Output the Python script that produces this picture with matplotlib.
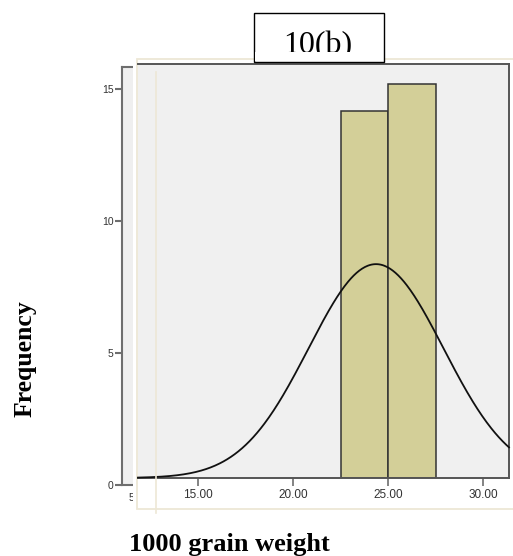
import numpy as np
import matplotlib
matplotlib.use("Agg")
import matplotlib.pyplot as plt
from matplotlib.patches import Rectangle
from matplotlib.lines import Line2D

# histogram of 1000 grain weight with fitted normal curve
bin_edges = [22.5, 25.0, 27.5]
bin_counts = [14, 15]
fit_mean = 24.37
fit_sd = 3.55
x_ticks = [15, 20, 25, 30]
x_tick_labels = ["15.00", "20.00", "25.00", "30.00"]
y_ticks = [0, 5, 10, 15]

W, H = 513, 556
fig = plt.figure(figsize=(W / 100, H / 100), dpi=100)
fig.patch.set_facecolor("white")


def fx(x):
    return x / W


def fy(y):
    return 1 - y / H


def box(x0, y0, x1, y1):
    return [fx(x0), fy(y1), fx(x1) - fx(x0), fy(y0) - fy(y1)]


def rect(x0, y0, x1, y1, **kw):
    r = Rectangle((fx(x0), fy(y1)), fx(x1) - fx(x0), fy(y0) - fy(y1),
                  transform=fig.transFigure, **kw)
    fig.patches.append(r)
    return r


axis_grey = "#6e6e6e"
panel_grey = "#f0f0f0"
beige = "#ede7d6"

# underlying frame, mostly covered by the panel on top of it
ax0 = fig.add_axes(box(122, 67, 133, 485), zorder=0)
ax0.set_facecolor("#efefef")
ax0.set_ylim(0, 418 / 26.4)
ax0.set_xlim(0, 1)
ax0.set_xticks([])
ax0.set_yticks(y_ticks)
ax0.set_yticklabels([str(v) for v in y_ticks], fontsize=7.5,
                    family="Liberation Sans", color="#333333")
ax0.tick_params(axis="y", length=5, width=1.5, color=axis_grey, pad=1)
for side in ["left", "top", "bottom"]:
    ax0.spines[side].set_color(axis_grey)
    ax0.spines[side].set_linewidth(1.5)
ax0.spines["right"].set_visible(False)
fig.text(fx(129), fy(498), "5.00", fontsize=7.5, family="Liberation Sans",
         color="#333333", ha="left", va="center", zorder=0.5)

# white panel with a pale frame
rect(133, 55, 520, 509, facecolor="white", edgecolor="none", zorder=1)
rect(137, 59, 520, 509, facecolor="white", edgecolor=beige, linewidth=1.3, zorder=1.1)

ax = fig.add_axes(box(138, 64, 509, 478), zorder=2)
ax.set_facecolor(panel_grey)
ax.set_xlim(11.842, 31.368)
ax.set_ylim(0, 414 / 26.25)

widths = np.diff(bin_edges)
ax.bar(bin_edges[:-1], bin_counts, width=widths, align="edge",
       color="#d3cf98", edgecolor="#333333", linewidth=1.1, zorder=2)

xs = np.linspace(11.842, 31.368, 400)
scale = sum(bin_counts) * widths[0]
ys = scale * np.exp(-0.5 * ((xs - fit_mean) / fit_sd) ** 2) / (fit_sd * np.sqrt(2 * np.pi))
ax.plot(xs, ys, color="#111111", linewidth=1.3, zorder=3, clip_on=False)

ax.set_xticks(x_ticks)
ax.set_xticklabels(x_tick_labels, fontsize=8.5, family="Liberation Sans", color="#333333")
ax.set_yticks([])
ax.tick_params(axis="x", direction="out", length=6, width=1.2, color=axis_grey, pad=2)
ax.spines["left"].set_visible(False)
for side in ["top", "right", "bottom"]:
    ax.spines[side].set_color("#555555")
    ax.spines[side].set_linewidth(1.4)

# pale guide line across the panel
fig.lines.append(Line2D([fx(155.5), fx(155.5)], [fy(72), fy(513)],
                        transform=fig.transFigure, color=beige, linewidth=1.2, zorder=5))

# title box; the lower part of the label is hidden by a white strip
rect(254, 13, 384, 62, facecolor="white", edgecolor="black", linewidth=1.0, zorder=6)
fig.text(fx(318), fy(53), "10(b)", fontsize=23, family="Liberation Serif",
         ha="center", va="baseline", zorder=7)
rect(254.8, 52.5, 383.2, 61.3, facecolor="white", edgecolor="none", zorder=8)

fig.text(fx(25), fy(359), "Frequency", fontsize=18.5, family="Liberation Serif",
         fontweight="bold", rotation=90, ha="center", va="center")
fig.text(fx(129), fy(551), "1000 grain weight", fontsize=19, family="Liberation Serif",
         fontweight="bold", ha="left", va="baseline")

fig.savefig("out.png", dpi=100)
